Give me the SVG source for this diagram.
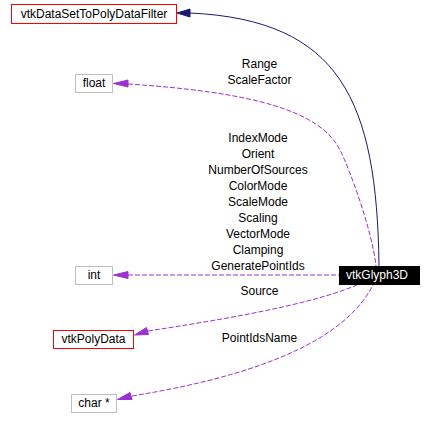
<svg xmlns="http://www.w3.org/2000/svg" width="432" height="429" viewBox="0 0 432 429">
<defs>
<style>
text{font-family:"Liberation Sans",Arial,sans-serif;font-size:12px;fill:#000;text-anchor:middle}
.box{fill:#fff;stroke-width:1}
.red{stroke:#ff0000}
.grey{stroke:#bfbfbf}
.use{fill:none;stroke:#9a32cd;stroke-width:1;stroke-dasharray:5,2}
.inh{fill:none;stroke:#191970;stroke-width:1}
.ahu{fill:#9a32cd;stroke:#9a32cd}
.ahi{fill:#191970;stroke:#191970}
</style>
</defs>
<rect width="432" height="429" fill="#fff"/>
<g id="connectors">
<path class="inh" d="M379,266 C377,100 340,20 190,13"/>
<polygon class="ahi" points="177,13 190,9 190,17"/>
<path class="use" d="M128,84 C250,92 320,110 340,150 C350,170 372,230 376,266"/>
<polygon class="ahu" points="113.5,83.5 128,80 128,87"/>
<path class="use" d="M128,275 L339,275"/>
<polygon class="ahu" points="113.5,275 128,271.5 128,278.5"/>
<path class="use" d="M148,331 C220,320 310,305 357,285"/>
<polygon class="ahu" points="134.5,335 146.5,327.5 148.5,334.5"/>
<path class="use" d="M132,396 C230,380 340,350 373,285"/>
<polygon class="ahu" points="117.5,399.5 130,392.5 132,399.5"/>
<text x="259.5" y="68">Range</text>
<text x="259.5" y="84">ScaleFactor</text>
<text x="258" y="142">IndexMode</text>
<text x="258" y="158">Orient</text>
<text x="258" y="174">NumberOfSources</text>
<text x="258" y="190">ColorMode</text>
<text x="258" y="206">ScaleMode</text>
<text x="258" y="222">Scaling</text>
<text x="258" y="238">VectorMode</text>
<text x="258" y="254">Clamping</text>
<text x="258" y="270">GeneratePointIds</text>
<text x="259.5" y="295">Source</text>
<text x="259.5" y="342">PointIdsName</text>
</g>
<g id="vtkDataSetToPolyDataFilter">
<rect class="box red" x="11.5" y="4.5" width="165" height="19"/>
<text x="94" y="18">vtkDataSetToPolyDataFilter</text>
</g>
<g id="float">
<rect class="box grey" x="75.5" y="74.5" width="37" height="18"/>
<text x="94" y="87">float</text>
</g>
<g id="int">
<rect class="box grey" x="75.5" y="266.5" width="37" height="18"/>
<text x="94" y="279">int</text>
</g>
<g id="vtkPolyData">
<rect class="box red" x="53.5" y="330.5" width="80" height="18"/>
<text x="93.5" y="343">vtkPolyData</text>
</g>
<g id="char">
<rect class="box grey" x="71.5" y="394.5" width="45" height="18"/>
<text x="94" y="407">char *</text>
</g>
<g id="vtkGlyph3D">
<rect x="339" y="266" width="81" height="19" fill="#000"/>
<text x="377" y="278.5" fill="#fff" style="fill:#fff">vtkGlyph3D</text>
</g>
</svg>
